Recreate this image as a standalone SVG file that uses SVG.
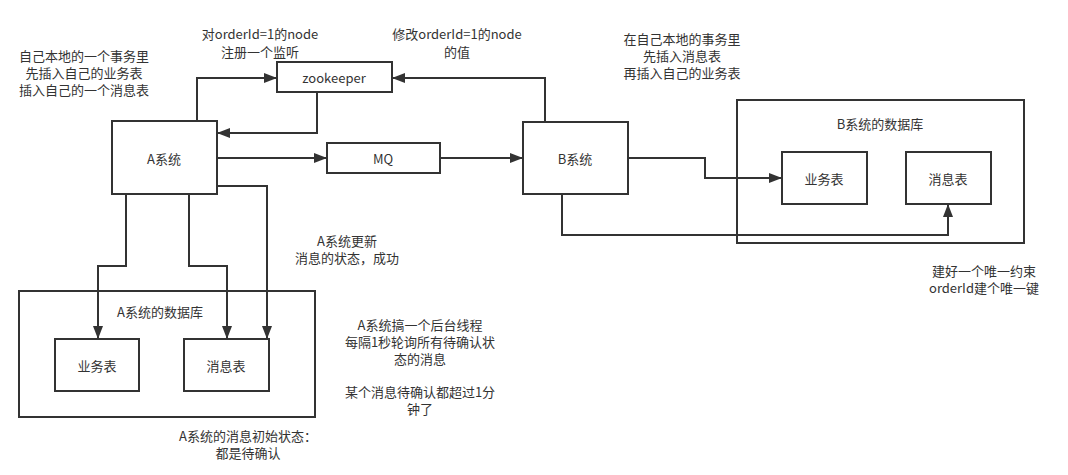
<svg xmlns="http://www.w3.org/2000/svg" width="1068" height="475" viewBox="0 0 1068 475">
<defs>
<style>
text{font-family:"Noto Sans CJK SC","Liberation Sans",sans-serif;font-size:13px;fill:#333;text-anchor:middle;dominant-baseline:central}
.box{fill:#fff;stroke:#333;stroke-width:2}
.grp{fill:none;stroke:#333;stroke-width:2}
.c{fill:none;stroke:#333;stroke-width:2;marker-end:url(#ah)}
</style>
<marker id="ah" markerUnits="userSpaceOnUse" markerWidth="14" markerHeight="11" refX="13" refY="5" orient="auto">
<path d="M0,0 L13,5 L0,10 z" fill="#333"/>
</marker>
</defs>
<rect width="1068" height="475" fill="#fff"/>

<g id="adb"><rect class="grp" x="19" y="291" width="296" height="126"/><text x="160" y="311">A系统的数据库</text></g>
<g id="bdb"><rect class="grp" x="737" y="100" width="287" height="143"/><text x="880" y="123">B系统的数据库</text></g>

<g id="connectors">
<path class="c" d="M197,121 V78 H277"/>
<path class="c" d="M317,92 V133 H217"/>
<path class="c" d="M217,158 H327"/>
<path class="c" d="M440,158 H523"/>
<path class="c" d="M545,122 V78 H392"/>
<path class="c" d="M628,158 H705 V178 H782"/>
<path class="c" d="M562,194 V235 H948 V204"/>
<path class="c" d="M126,194 V266 H98 V339"/>
<path class="c" d="M189,194 V266 H227 V339"/>
<path class="c" d="M217,186 H267 V339"/>
</g>

<g id="asys"><rect class="box" x="112" y="121" width="105" height="73"/><text x="164" y="158">A系统</text></g>
<g id="zk"><rect class="box" x="277" y="62" width="115" height="30"/><text x="334" y="77">zookeeper</text></g>
<g id="mq"><rect class="box" x="327" y="143" width="113" height="30"/><text x="383" y="158">MQ</text></g>
<g id="bsys"><rect class="box" x="523" y="122" width="105" height="72"/><text x="575" y="158">B系统</text></g>
<g id="a-biz"><rect class="box" x="55" y="339" width="84" height="52"/><text x="97" y="365">业务表</text></g>
<g id="a-msg"><rect class="box" x="184" y="339" width="85" height="52"/><text x="226" y="365">消息表</text></g>
<g id="b-biz"><rect class="box" x="782" y="152" width="85" height="52"/><text x="824" y="178">业务表</text></g>
<g id="b-msg"><rect class="box" x="906" y="152" width="85" height="52"/><text x="948" y="178">消息表</text></g>

<g id="notes">
<text x="84" y="55">自己本地的一个事务里<tspan x="84" dy="17">先插入自己的业务表</tspan><tspan x="84" dy="17">插入自己的一个消息表</tspan></text>
<text x="260" y="33">对orderId=1的node<tspan x="260" dy="18">注册一个监听</tspan></text>
<text x="457" y="33">修改orderId=1的node<tspan x="457" dy="18">的值</tspan></text>
<text x="682" y="38">在自己本地的事务里<tspan x="682" dy="17">先插入消息表</tspan><tspan x="682" dy="17">再插入自己的业务表</tspan></text>
<text x="347" y="240">A系统更新<tspan x="347" dy="17">消息的状态，成功</tspan></text>
<text x="420" y="324">A系统搞一个后台线程<tspan x="420" dy="17">每隔1秒轮询所有待确认状</tspan><tspan x="420" dy="17">态的消息</tspan></text>
<text x="420" y="391">某个消息待确认都超过1分<tspan x="420" dy="17">钟了</tspan></text>
<text x="248" y="435">A系统的消息初始状态：<tspan x="248" dy="17">都是待确认</tspan></text>
<text x="984" y="270">建好一个唯一约束<tspan x="984" dy="17">orderId建个唯一键</tspan></text>
</g>
</svg>
